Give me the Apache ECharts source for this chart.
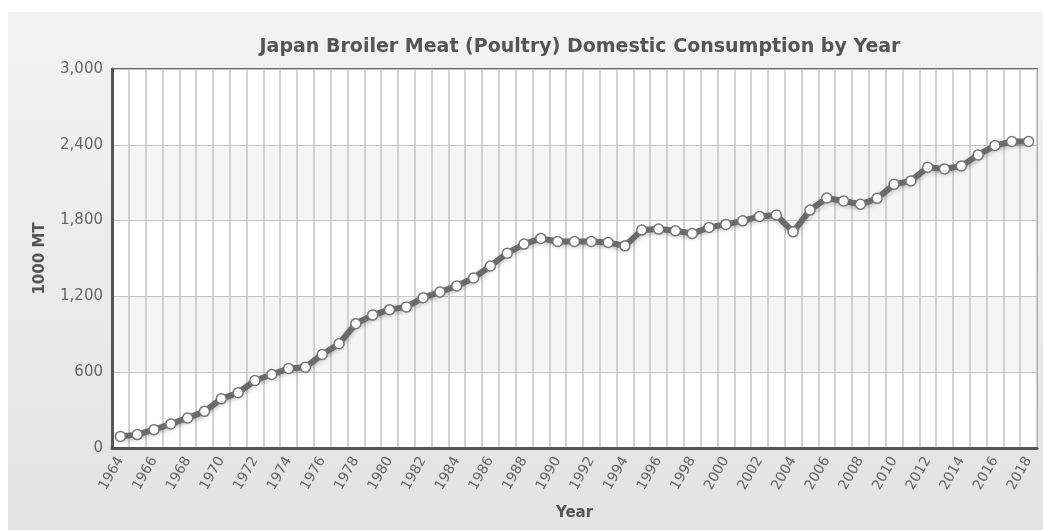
<!DOCTYPE html>
<html>
<head>
<meta charset="utf-8">
<script src="https://cdn.jsdelivr.net/npm/echarts@6/dist/echarts.min.js"></script>
<style>
  html, body { margin: 0; padding: 0; background: #fff; }
  #box {
    position: absolute; left: 8px; top: 12px; width: 1035px; height: 518px;
    background: linear-gradient(#f3f3f3, #e3e3e3);
  }
  #chart { width: 1035px; height: 518px; }
</style>
</head>
<body>
<div id="box"><div id="chart"></div></div>
<script>
// 年份
var years = [];
for (var y = 1964; y <= 2018; y++) years.push(String(y));

// 消费量 (1000 MT)
var consumption = [
  92, 106, 145, 190, 238, 290, 389, 437, 534, 582,
  629, 640, 740, 825, 984, 1052, 1095, 1117, 1190, 1235,
  1283, 1346, 1441, 1542, 1614, 1659, 1635, 1635, 1635, 1627,
  1600, 1725, 1733, 1719, 1698, 1746, 1770, 1798, 1833, 1844,
  1711, 1883, 1979, 1955, 1929, 1976, 2087, 2114, 2222, 2209,
  2233, 2320, 2394, 2426, 2426
];

var yTicks = [0, 600, 1200, 1800, 2400, 3000];

var font = 'DejaVu Sans, Verdana, sans-serif';

var chart = echarts.init(document.getElementById('chart'));
chart.setOption({
  backgroundColor: 'transparent',
  animation: false,
  title: {
    text: 'Japan Broiler Meat (Poultry) Domestic Consumption by Year',
    left: 567, top: 21, textAlign: 'center',
    textStyle: { fontFamily: font, fontSize: 19, fontWeight: 'bold', color: '#555' }
  },
  grid: {
    left: 104, top: 57, right: 6, bottom: 82,
    show: true, borderColor: '#666', borderWidth: 2, backgroundColor: '#fff'
  },
  xAxis: {
    type: 'category',
    data: years,
    boundaryGap: true,
    name: 'Year',
    nameLocation: 'middle',
    nameGap: 58,
    nameTextStyle: { fontFamily: font, fontSize: 15, fontWeight: 'bold', color: '#555' },
    axisLine: { lineStyle: { color: '#555', width: 3 } },
    axisTick: { show: false },
    axisLabel: {
      interval: 1, rotate: 60, margin: 10,
      fontFamily: font, fontSize: 14, color: '#666'
    },
    splitLine: { show: true, interval: 0, lineStyle: { color: '#c4c4c4', width: 1.5 } }
  },
  yAxis: {
    type: 'value',
    min: yTicks[0], max: yTicks[yTicks.length - 1], interval: 600,
    name: '1000 MT',
    nameLocation: 'middle',
    nameGap: 64,
    nameTextStyle: { fontFamily: font, fontSize: 15, fontWeight: 'bold', color: '#555' },
    axisLine: { show: true, lineStyle: { color: '#555', width: 3 } },
    axisTick: { show: false },
    axisLabel: {
      margin: 9, fontFamily: font, fontSize: 15, color: '#666',
      formatter: function (v) { return v.toLocaleString('en-US'); }
    },
    splitLine: { lineStyle: { color: '#c4c4c4', width: 1 } },
    splitArea: { show: true, areaStyle: { color: ['#ffffff', '#f5f5f5'] } }
  },
  series: [{
    type: 'line',
    data: consumption,
    symbol: 'circle',
    symbolSize: 10,
    lineStyle: {
      color: '#6a6a6a', width: 6,
      shadowColor: 'rgba(0,0,0,0.25)', shadowBlur: 4, shadowOffsetY: 2
    },
    itemStyle: { color: '#fff', borderColor: '#777', borderWidth: 1.5 }
  }]
});
</script>
</body>
</html>
